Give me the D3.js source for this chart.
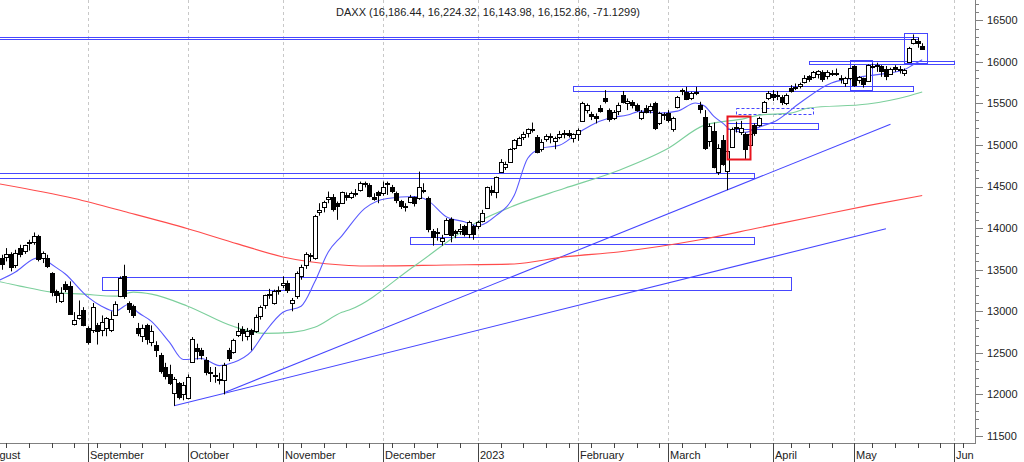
<!DOCTYPE html>
<meta charset="utf-8">
<body style="margin:0;background:#fff">
<script src="https://d3js.org/d3.v7.min.js"></script>
<script>

var holidays = ["2022-12-26", "2023-04-07", "2023-04-10", "2023-05-01"];
var firstDay = "2022-08-01", lastDay = "2023-06-07";

// open, high, low, close for each trading day from 1 Aug 2022 to 23 May 2023
var candles = [
  // August
  [13520,13580,13400,13479],[13400,13490,13290,13449],[13450,13620,13420,13587],[13600,13700,13550,13662],
  [13640,13680,13500,13574],[13650,13760,13600,13687],[13690,13710,13480,13535],[13560,13740,13520,13700],
  [13760,13800,13650,13694],[13720,13800,13690,13795],[13830,13860,13730,13816],[13830,13948,13800,13910],
  [13900,13920,13600,13626],[13640,13720,13580,13697],[13640,13680,13520,13544],[13460,13470,13180,13230],
  [13240,13260,13100,13194],[13120,13290,13100,13220],[13330,13360,13230,13271],[13300,13360,12960,12971],
  [12850,12990,12830,12893],[12920,13130,12900,12961],[13020,13050,12820,12834],
  // September
  [12800,12820,12600,12630],[12770,13100,12740,13050],[12830,12860,12600,12761],[12780,12950,12700,12872],
  [12800,12930,12700,12916],[12780,13000,12750,12904],[12960,13120,12950,13088],[13180,13420,13170,13402],
  [13420,13560,13150,13189],[13100,13120,12980,13028],[13060,13080,12920,12956],[12800,12860,12700,12741],
  [12700,12840,12630,12803],[12830,12850,12600,12671],[12630,12830,12580,12767],[12600,12640,12450,12531],
  [12480,12500,12250,12284],[12330,12380,12180,12227],[12250,12357,12113,12139],[12020,12210,11862,12183],
  [12140,12150,11940,11975],[12000,12150,11930,12114],
  // October
  [11960,12240,11940,12209],[12390,12690,12380,12671],[12560,12610,12420,12517],[12530,12560,12420,12471],
  [12420,12450,12230,12273],[12260,12330,12150,12273],[12230,12330,12140,12220],[12190,12260,12120,12172],
  [12170,12380,12000,12356],[12530,12560,12400,12437],[12510,12670,12490,12649],[12720,12860,12690,12765],
  [12790,12820,12640,12741],[12700,12800,12650,12767],[12770,12790,12530,12731],[12760,12960,12740,12931],
  [12940,13070,12900,13053],[13080,13200,13030,13195],[13190,13270,13150,13211],[13100,13260,13080,13243],
  [13260,13300,13200,13254],
  // November
  [13320,13420,13280,13339],[13340,13370,13220,13256],[13100,13160,13000,13130],[13180,13480,13150,13460],
  [13420,13560,13380,13533],[13560,13710,13510,13688],[13680,13700,13600,13666],[13640,14160,13620,14146],
  [14200,14300,14150,14224],[14250,14330,14190,14313],[14350,14440,14300,14379],[14380,14410,14200,14234],
  [14300,14320,14100,14266],[14300,14440,14290,14431],[14400,14430,14330,14380],[14380,14440,14350,14423],
  [14410,14470,14380,14428],[14460,14560,14440,14539],[14530,14560,14490,14541],[14520,14540,14370,14383],
  [14380,14420,14330,14355],[14430,14450,14300,14397],
  // December
  [14420,14560,14390,14490],[14540,14560,14400,14529],[14500,14520,14420,14448],[14420,14440,14300,14344],
  [14330,14340,14230,14261],[14270,14300,14200,14265],[14320,14400,14300,14370],[14370,14380,14260,14306],
  [14360,14680,14340,14497],[14450,14540,14420,14460],[14360,14380,13950,13987],[13970,13990,13790,13894],
  [13950,14000,13850,13942],[13850,13920,13790,13884],[13930,14120,13920,14098],[14110,14130,13830,13914],
  [13960,13980,13880,13941],[13960,14050,13920,13995],[14020,14040,13900,13926],[13930,14090,13880,14071],
  [14020,14040,13860,13924],
  // January
  [14020,14090,13990,14069],[14090,14220,14070,14181],[14240,14500,14230,14490],[14460,14510,14390,14436],
  [14430,14620,14360,14610],[14680,14830,14670,14792],[14740,14800,14700,14775],[14800,14960,14790,14948],
  [14970,15070,14940,15058],[15000,15100,14990,15087],[15100,15160,15060,15134],[15140,15200,15090,15187],
  [15190,15270,15150,15181],[15100,15120,14900,14920],[14950,15070,14920,15033],[15070,15130,15040,15103],
  [15110,15140,15020,15093],[15050,15100,14950,15082],[15100,15170,15070,15132],[15140,15180,15080,15150],
  [15150,15180,15090,15126],[15080,15140,15030,15128],
  // February
  [15130,15200,15050,15180],[15290,15520,15280,15509],[15420,15500,15380,15476],[15370,15400,15300,15346],
  [15350,15380,15260,15321],[15440,15480,15390,15412],[15560,15660,15500,15524],[15420,15440,15280,15308],
  [15320,15420,15300,15397],[15410,15510,15360,15480],[15600,15650,15500,15520],[15500,15560,15420,15534],
  [15520,15540,15440,15482],[15480,15500,15400,15420],[15330,15420,15300,15398],[15450,15480,15380,15400],
  [15420,15500,15380,15475],[15500,15520,15180,15210],[15260,15400,15240,15381],[15370,15390,15300,15365],
  // March
  [15380,15420,15270,15305],[15190,15340,15160,15327],[15460,15590,15440,15578],[15660,15680,15600,15654],
  [15640,15700,15540,15559],[15560,15640,15540,15631],[15620,15700,15600,15633],[15480,15520,15380,15428],
  [15340,15420,14940,14959],[15050,15260,14980,15233],[15170,15270,14720,14735],[14680,15010,14640,14967],
  [15060,15120,14750,14768],[14690,14960,14458,14933],[14980,15210,14970,15195],[15200,15280,15150,15216],
  [15160,15290,15120,15210],[15130,15150,14830,14957],[15000,15180,14990,15128],[15240,15260,15110,15142],
  [15240,15340,15220,15329],[15400,15530,15390,15522],[15560,15650,15540,15629],
  // April
  [15610,15660,15530,15581],[15600,15650,15540,15603],[15580,15600,15480,15520],[15510,15620,15480,15598],
  [15680,15720,15630,15655],[15690,15740,15660,15703],[15710,15750,15680,15730],[15760,15840,15740,15808],
  [15830,15840,15760,15789],[15820,15890,15800,15882],[15850,15900,15800,15896],[15880,15900,15760,15796],
  [15830,15900,15790,15882],[15870,15900,15830,15863],[15870,15920,15830,15872],[15800,15840,15740,15796],
  [15750,15820,15700,15800],[15800,15930,15780,15922],
  // May
  [15950,15960,15700,15727],[15780,15830,15740,15815],[15800,15810,15690,15734],[15770,15970,15760,15961],
  [15950,15980,15920,15952],[15960,15990,15880,15955],[15950,15960,15820,15896],[15920,15950,15780,15834],
  [15860,15930,15850,15914],[15940,15960,15880,15918],[15920,15950,15860,15897],[15870,15920,15830,15897],
  [16000,16180,15990,16163],[16230,16330,16210,16275],[16250,16290,16170,16224],[16186.44,16224.32,16143.98,16152.86]
];
var lastChange = "-71.1299";

// moving averages
var blueMA = [
  ["2022-08-04",13363],["2022-08-10",13472],["2022-08-16",13630],["2022-08-18",13654],["2022-08-19",13605],
  ["2022-08-25",13448],["2022-09-01",13170],["2022-09-06",13061],["2022-09-09",13000],["2022-09-14",13085],
  ["2022-09-16",12988],["2022-09-21",12879],["2022-09-27",12625],["2022-09-30",12420],["2022-10-06",12432],
  ["2022-10-12",12347],["2022-10-17",12383],["2022-10-21",12516],["2022-10-26",12746],["2022-11-01",12988],
  ["2022-11-07",13061],["2022-11-10",13351],["2022-11-15",13714],["2022-11-18",13908],["2022-11-25",14235],
  ["2022-12-02",14356],["2022-12-12",14380],["2022-12-15",14331],["2022-12-21",14138],["2022-12-28",14077],
  ["2023-01-02",14029],["2023-01-06",14150],["2023-01-12",14392],["2023-01-17",14840],["2023-01-20",14961],
  ["2023-01-26",14997],["2023-02-01",15142],["2023-02-06",15239],["2023-02-10",15324],["2023-02-16",15360],
  ["2023-02-21",15408],["2023-02-27",15384],["2023-03-03",15408],["2023-03-09",15505],["2023-03-13",15469],
  ["2023-03-15",15348],["2023-03-17",15263],["2023-03-21",15178],["2023-03-24",15154],["2023-03-29",15215],
  ["2023-04-04",15299],["2023-04-13",15505],["2023-04-24",15747],["2023-04-28",15796],["2023-05-05",15832],
  ["2023-05-12",15868],["2023-05-17",15904],["2023-05-19",15965],["2023-05-23",16025]
];
var greenMA = [
  ["2022-08-04",13363],["2022-08-11",13303],["2022-08-22",13230],["2022-08-31",13206],["2022-09-09",13182],
  ["2022-09-15",13230],["2022-09-21",13206],["2022-10-03",13061],["2022-10-17",12819],["2022-10-26",12734],
  ["2022-11-03",12746],["2022-11-10",12807],["2022-11-18",12988],["2022-11-22",13025],["2022-12-12",13545],
  ["2023-01-02",14077],["2023-01-12",14271],["2023-01-27",14477],["2023-02-14",14694],["2023-03-01",14961],
  ["2023-03-13",15239],["2023-03-24",15320],["2023-03-29",15360],["2023-04-11",15384],["2023-04-17",15445],
  ["2023-05-05",15493],["2023-05-18",15590],["2023-05-23",15638]
];
var redMA = [
  ["2022-08-04",14537],["2022-08-29",14356],["2022-09-14",14186],["2022-10-03",13993],["2022-10-18",13811],
  ["2022-11-01",13654],["2022-11-18",13557],["2022-11-25",13545],["2022-12-21",13557],["2023-01-12",13569],
  ["2023-01-27",13654],["2023-02-14",13714],["2023-03-10",13860],["2023-03-29",14005],["2023-04-19",14150],
  ["2023-05-05",14271],["2023-05-23",14392]
];

var trendLines = [
  [["2022-10-13",12020],["2023-05-12",15250]],
  [["2022-09-28",11863],["2023-05-11",13993]]
];

// boxes: first day, last day, top value, bottom value
var boxes = [
  ["2022-08-01","2023-05-19",16300,16280],
  ["2023-05-17","2023-05-23",16350,15990],
  ["2023-04-17","2023-05-31",16013,15977],
  ["2023-04-28","2023-05-05",16025,15662],
  ["2023-01-31","2023-05-18",15711,15650],
  ["2023-03-20","2023-04-18",15263,15190],
  ["2022-08-01","2023-03-27",14658,14598],
  ["2022-12-09","2023-03-27",13896,13811],
  ["2022-09-06","2023-04-06",13412,13255]
];
var dashedBoxes = [["2023-03-22","2023-04-17",15445,15372]];
var redBoxes = [["2023-03-20","2023-03-24",15344,14828]];

var monthNames = ["August","September","October","November","December","2023",
                  "February","March","April","May","Jun"];
var yTicks = [11500,12000,12500,13000,13500,14000,14500,15000,15500,16000,16500];

var width = 1024, height = 462,
    right = 975, bottom = 443;

var fmt = d3.timeFormat("%Y-%m-%d"), parse = d3.timeParse("%Y-%m-%d");
var days = d3.timeDay.range(parse(firstDay), d3.timeDay.offset(parse(lastDay), 1))
    .filter(function(d) { return d.getDay() % 6 != 0 && holidays.indexOf(fmt(d)) < 0; })
    .map(fmt);

var x = d3.scaleBand().domain(days).range([-16.3, 976.6]);
var step = x.step();
var y = d3.scaleLinear().domain([11500, 16500]).range([436, 20.3]);

var svg = d3.select("body").append("svg")
    .attr("width", width)
    .attr("height", height)
    .style("display", "block")
    .style("font-family", "'Liberation Sans', Arial, sans-serif")
    .style("font-size", "11px");

svg.append("clipPath").attr("id", "plot")
  .append("rect").attr("x", 0).attr("y", 0).attr("width", right).attr("height", bottom);

var monthStarts = days.filter(function(d, i) { return i == 0 || d.slice(5, 7) != days[i - 1].slice(5, 7); });
var weekStarts = days.filter(function(d, i) {
  return i > 0 && parse(d).getDay() < parse(days[i - 1]).getDay();
});

// month grid
svg.append("g").selectAll("line")
    .data(monthStarts.slice(1))
    .enter().append("line")
    .attr("x1", function(d) { return Math.round(x(d)) + 0.5; })
    .attr("x2", function(d) { return Math.round(x(d)) + 0.5; })
    .attr("y1", 0).attr("y2", bottom)
    .attr("stroke", "#c8c8c8")
    .attr("stroke-dasharray", "3,3");

var plot = svg.append("g").attr("clip-path", "url(#plot)");

function boxAttrs(sel) {
  sel.attr("x", function(d) { return Math.round(x(d[0])) + 0.5; })
     .attr("y", function(d) { return Math.round(y(d[2])) + 0.5; })
     .attr("width", function(d) { return Math.round(x(d[1]) + step) - Math.round(x(d[0])); })
     .attr("height", function(d) { return Math.max(2, Math.round(y(d[3])) - Math.round(y(d[2]))); })
     .attr("fill", "none");
}

plot.append("g").selectAll("rect").data(boxes).enter().append("rect")
    .call(boxAttrs).attr("stroke", "#4646ff");
plot.append("g").selectAll("rect").data(dashedBoxes).enter().append("rect")
    .call(boxAttrs).attr("stroke", "#4646ff").attr("stroke-dasharray", "3,2");

plot.append("g").selectAll("line").data(trendLines).enter().append("line")
    .attr("x1", function(d) { return x(d[0][0]); })
    .attr("y1", function(d) { return y(d[0][1]); })
    .attr("x2", function(d) { return x(d[1][0]); })
    .attr("y2", function(d) { return y(d[1][1]); })
    .attr("stroke", "#4646ff").attr("stroke-width", 1.1);

var maLine = d3.line()
    .x(function(d) { return x(d[0]); })
    .y(function(d) { return y(d[1]); })
    .curve(d3.curveMonotoneX);

plot.append("path").datum(redMA).attr("d", maLine)
    .attr("fill", "none").attr("stroke", "#ff4b4b").attr("stroke-width", 1.1);
plot.append("path").datum(greenMA).attr("d", maLine)
    .attr("fill", "none").attr("stroke", "#7ccf9c").attr("stroke-width", 1.1);
plot.append("path").datum(blueMA).attr("d", maLine)
    .attr("fill", "none").attr("stroke", "#5a5aff").attr("stroke-width", 1.1);

// candles
var candle = plot.append("g").selectAll("g")
    .data(candles)
    .enter().append("g");

candle.append("line")
    .attr("x1", function(d, i) { return Math.round(x(days[i])) + 0.5; })
    .attr("x2", function(d, i) { return Math.round(x(days[i])) + 0.5; })
    .attr("y1", function(d) { return y(d[1]); })
    .attr("y2", function(d) { return y(d[2]); })
    .attr("stroke", "#000");

candle.append("rect")
    .attr("x", function(d, i) { return Math.round(x(days[i])) - 1.5; })
    .attr("width", 4)
    .attr("y", function(d) { return Math.round(y(Math.max(d[0], d[3]))) + 0.5; })
    .attr("height", function(d) {
      return Math.max(1, Math.round(y(Math.min(d[0], d[3]))) - Math.round(y(Math.max(d[0], d[3]))));
    })
    .attr("fill", function(d) { return d[3] >= d[0] ? "#fff" : "#000"; })
    .attr("stroke", "#000");

plot.append("g").selectAll("rect").data(redBoxes).enter().append("rect")
    .call(boxAttrs).attr("stroke", "#e8141e").attr("stroke-width", 2);

// y axis
var axisColor = "#808080";
svg.append("line")
    .attr("x1", right + 0.5).attr("x2", right + 0.5)
    .attr("y1", 0).attr("y2", bottom + 1)
    .attr("stroke", axisColor);

svg.append("g").selectAll("line")
    .data(d3.range(11500, 16800, 100))
    .enter().append("line")
    .attr("x1", right)
    .attr("x2", function(d) { return d % 500 == 0 ? right + 8 : right + 4; })
    .attr("y1", function(d) { return Math.round(y(d)) + 0.5; })
    .attr("y2", function(d) { return Math.round(y(d)) + 0.5; })
    .attr("stroke", axisColor);

svg.append("g").selectAll("text")
    .data(yTicks)
    .enter().append("text")
    .attr("x", right + 12)
    .attr("y", function(d) { return y(d); })
    .attr("dy", "0.35em")
    .attr("fill", "#222")
    .text(function(d) { return d; });

// x axis
svg.append("line")
    .attr("x1", 0).attr("x2", right + 1)
    .attr("y1", bottom + 0.5).attr("y2", bottom + 0.5)
    .attr("stroke", axisColor);

svg.append("g").selectAll("line")
    .data(weekStarts)
    .enter().append("line")
    .attr("x1", function(d) { return Math.round(x(d)) + 0.5; })
    .attr("x2", function(d) { return Math.round(x(d)) + 0.5; })
    .attr("y1", bottom).attr("y2", bottom + 5)
    .attr("stroke", "#444");

svg.append("g").selectAll("line")
    .data(monthStarts)
    .enter().append("line")
    .attr("x1", function(d) { return Math.round(x(d)) + 0.5; })
    .attr("x2", function(d) { return Math.round(x(d)) + 0.5; })
    .attr("y1", bottom).attr("y2", height)
    .attr("stroke", "#444");

svg.append("g").selectAll("text")
    .data(monthStarts)
    .enter().append("text")
    .attr("x", function(d) { return Math.round(x(d)) + 2; })
    .attr("y", 459)
    .attr("fill", "#222")
    .text(function(d, i) { return monthNames[i]; });

// title from the last candle
var last = candles[candles.length - 1];
var num = d3.format(",.2f");
svg.append("text")
    .attr("x", 488).attr("y", 16)
    .attr("text-anchor", "middle")
    .attr("fill", "#222")
    .text("DAXX (" + last.map(num).join(", ") + ", " + lastChange + ")");

</script>
